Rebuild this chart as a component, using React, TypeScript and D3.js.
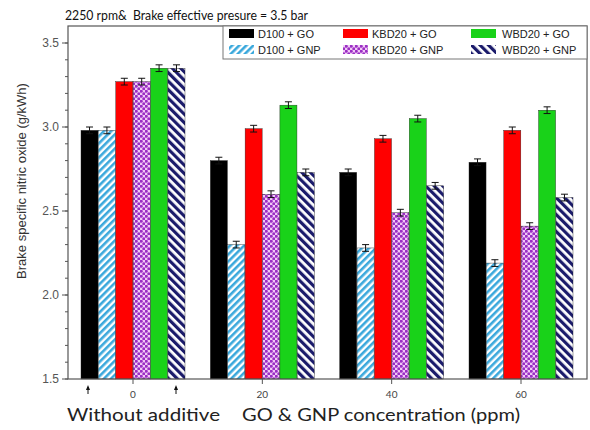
import React from "react";
import * as d3 from "d3";

const concentrations = [0, 20, 40, 60];
const seriesNames = ["D100 + GO", "D100 + GNP", "KBD20 + GO", "KBD20 + GNP", "WBD20 + GO", "WBD20 + GNP"];
const d100GO = [2.98, 2.80, 2.73, 2.79];
const d100GNP = [2.98, 2.30, 2.28, 2.19];
const kbd20GO = [3.27, 2.99, 2.93, 2.98];
const kbd20GNP = [3.27, 2.60, 2.49, 2.41];
const wbd20GO = [3.35, 3.13, 3.05, 3.10];
const wbd20GNP = [3.35, 2.73, 2.65, 2.58];
const errors = [0.02, 0.02, 0.02, 0.02];
const yTicks = [1.5, 2.0, 2.5, 3.0, 3.5];
const xTicks = [0, 20, 40, 60];
const seriesValues = [d100GO, d100GNP, kbd20GO, kbd20GNP, wbd20GO, wbd20GNP];
const fills = ["#000000", "url(#pCyan)", "#ff0000", "url(#pPurple)", "#19d219", "url(#pNavy)"];

const L = 68, R = 587, T = 26, B = 379;

export default function App() {
  const x = d3.scaleLinear().domain([0, 60]).range([133, 521]);
  const y = d3.scaleLinear().domain([1.5, 3.5]).range([B, 43]);
  const groupW = 104;
  const inner = d3.scaleBand<number>().domain(d3.range(6)).range([-groupW / 2, groupW / 2]).paddingInner(0.02);
  const minor = d3.range(15, 36).map((v) => v / 10).filter((v) => y(v) >= T);
  const font = "'Liberation Sans', Arial, sans-serif";
  const cal = "Lato, 'Open Sans', sans-serif";

  return (
    <svg width={590} height={430} style={{ position: "absolute", left: 0, top: 0, background: "#fff" }}>
      <defs>
        <pattern id="pCyan" width={5} height={5} patternUnits="userSpaceOnUse" patternTransform="rotate(45)">
          <rect width={5} height={5} fill="#ffffff" />
          <rect width={2.6} height={5} fill="#3aa8dc" />
        </pattern>
        <pattern id="pNavy" width={6} height={6} patternUnits="userSpaceOnUse" patternTransform="rotate(-45)">
          <rect width={6} height={6} fill="#ffffff" />
          <rect width={3.2} height={6} fill="#1b1b6b" />
        </pattern>
        <pattern id="pPurple" width={5} height={5} patternUnits="userSpaceOnUse">
          <rect width={5} height={5} fill="#f1c8f6" />
          <circle cx={1.25} cy={1.25} r={1.5} fill="#9a2ec4" />
          <circle cx={3.75} cy={3.75} r={1.5} fill="#9a2ec4" />
        </pattern>
      </defs>

      {/* title */}
      <text x={65} y={20} fontFamily={cal} fontSize={13} fill="#111" style={{ whiteSpace: "pre" }} textLength={243} lengthAdjust="spacingAndGlyphs">2250 rpm&amp;  Brake effective presure = 3.5 bar</text>

      {/* bars */}
      {concentrations.map((c, gi) =>
        seriesValues.map((vals, si) => {
          const v = vals[gi];
          const bx = x(c) + (inner(si) as number);
          const bw = inner.bandwidth();
          const cx = bx + bw / 2;
          return (
            <g key={`${gi}-${si}`}>
              <rect x={bx} y={y(v)} width={bw} height={B - y(v)} fill={fills[si]} stroke="#222" strokeWidth={0.4} />
              <line x1={cx} x2={cx} y1={y(v + errors[gi])} y2={y(v - errors[gi])} stroke="#111" strokeWidth={1} />
              <line x1={cx - 3.5} x2={cx + 3.5} y1={y(v + errors[gi])} y2={y(v + errors[gi])} stroke="#111" strokeWidth={1} />
              <line x1={cx - 3.5} x2={cx + 3.5} y1={y(v - errors[gi])} y2={y(v - errors[gi])} stroke="#111" strokeWidth={1} />
            </g>
          );
        })
      )}

      {/* frame */}
      <rect x={L} y={T} width={R - L} height={B - T} fill="none" stroke="#555" strokeWidth={1.2} />

      {/* y axis */}
      {minor.map((v) => (
        <line key={v} x1={L} x2={L - 3} y1={y(v)} y2={y(v)} stroke="#555" strokeWidth={1} />
      ))}
      {yTicks.map((v) => (
        <g key={v}>
          <line x1={L} x2={L - 6} y1={y(v)} y2={y(v)} stroke="#555" strokeWidth={1} />
          <text x={L - 9} y={y(v) + 4} textAnchor="end" fontFamily={font} fontSize={12} fill="#555">{v.toFixed(1)}</text>
        </g>
      ))}
      <text transform={`translate(26,181) rotate(-90)`} textAnchor="middle" fontFamily={font} fontSize={13} fill="#333">
        Brake specific nitric oxide (g/kWh)
      </text>

      {/* x axis */}
      {xTicks.map((v) => (
        <g key={v}>
          <line x1={x(v)} x2={x(v)} y1={B} y2={B + 5} stroke="#555" strokeWidth={1} />
          <text x={x(v)} y={B + 19} textAnchor="middle" fontFamily={cal} fontSize={10} fill="#444">{v}</text>
        </g>
      ))}
      {[88, 176].map((ax) => (
        <g key={ax}>
          <line x1={ax} x2={ax} y1={B + 8} y2={B + 15} stroke="#111" strokeWidth={1} />
          <path d={`M${ax - 2},${B + 11} L${ax},${B + 6} L${ax + 2},${B + 11} Z`} fill="#111" />
        </g>
      ))}
      <text x={67} y={421} fontFamily={cal} fontSize={18} fill="#222" textLength={153} lengthAdjust="spacingAndGlyphs">Without additive</text>
      <text x={242} y={421} fontFamily={cal} fontSize={18} fill="#222" textLength={278} lengthAdjust="spacingAndGlyphs">GO &amp; GNP concentration (ppm)</text>

      {/* legend */}
      <rect x={223} y={26} width={R - 223} height={33} fill="#fff" stroke="#777" strokeWidth={1} />
      {seriesNames.map((name, i) => {
        const col = Math.floor(i / 2);
        const row = i % 2;
        const sx = [229, 343, 471][col];
        const tx = [258, 372, 502][col];
        const sy = row === 0 ? 29 : 45;
        return (
          <g key={name}>
            <rect x={sx} y={sy} width={25} height={9} fill={fills[i]} />
            <text x={tx} y={sy + 9} fontFamily={font} fontSize={11} fill="#222">{name}</text>
          </g>
        );
      })}
    </svg>
  );
}
